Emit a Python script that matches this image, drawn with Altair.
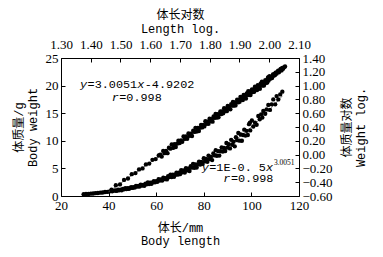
import altair as alt
import pandas as pd

# ---- data ----
low_len = [29.5, 30.5, 31.5, 32.5, 33.5, 34.5, 35.5, 36.5, 37.5, 38.5, 39.5, 40.5, 41.5, 42.5]
low_wt = [0.31, 0.36, 0.37, 0.43, 0.45, 0.52, 0.54, 0.61, 0.63, 0.72, 0.74, 0.84, 0.86, 0.97]

dense_len = [43.0, 43.5, 44.0, 44.5, 45.0, 45.5, 46.0, 46.5, 47.0, 47.5,
             48.0, 48.5, 49.0, 49.5, 50.0, 50.5, 51.0, 51.5, 52.0, 52.5,
             53.0, 53.5, 54.0, 54.5, 55.0, 55.5, 56.0, 56.5, 57.0, 57.5,
             58.0, 58.5, 59.0, 59.5, 60.0, 60.5, 61.0, 61.5, 62.0, 62.5,
             63.0, 63.5, 64.0, 64.5, 65.0, 65.5, 66.0, 66.5, 67.0, 67.5,
             68.0, 68.5, 69.0, 69.5, 70.0, 70.5, 71.0, 71.5, 72.0, 72.5,
             73.0, 73.5, 74.0, 74.5, 75.0, 75.5, 76.0, 76.5, 77.0, 77.5,
             78.0, 78.5, 79.0, 79.5, 80.0, 80.5, 81.0, 81.5, 82.0, 82.5,
             83.0, 83.5, 84.0, 84.5, 85.0, 85.5, 86.0, 86.5, 87.0, 87.5,
             88.0, 88.5, 89.0, 89.5, 90.0, 90.5, 91.0, 91.5, 92.0, 92.5,
             93.0, 93.5, 94.0, 94.5, 95.0, 95.5, 96.0, 96.5, 97.0, 97.5,
             98.0, 98.5, 99.0, 99.5]
dense_wt = [1.00, 0.94, 1.13, 1.05, 1.13, 1.05, 1.26, 1.22, 1.40, 1.25,
            1.41, 1.29, 1.44, 1.59, 1.47, 1.61, 1.53, 1.83, 1.69, 1.83,
            1.70, 2.03, 1.87, 2.01, 1.86, 2.22, 2.13, 2.44, 2.16, 2.43,
            2.20, 2.46, 2.70, 2.48, 2.70, 2.56, 3.04, 2.80, 3.01, 2.79,
            3.32, 3.05, 3.25, 3.00, 3.57, 3.42, 3.88, 3.43, 3.84, 3.48,
            3.86, 4.23, 3.87, 4.21, 3.96, 4.69, 4.31, 4.63, 4.26, 5.06,
            4.64, 4.93, 4.53, 5.39, 5.13, 5.82, 5.12, 5.72, 5.16, 5.72,
            6.24, 5.71, 6.18, 5.81, 6.86, 6.28, 6.73, 6.19, 7.32, 6.70,
            7.10, 6.51, 7.72, 7.35, 8.31, 7.30, 8.13, 7.32, 8.10, 8.82,
            8.05, 8.70, 8.15, 9.61, 8.79, 9.39, 8.62, 10.18, 9.29, 9.83,
            9.00, 10.66, 10.11, 11.42, 10.02, 11.14, 10.01, 11.06, 12.02, 10.95,
            11.81, 11.06, 13.01, 11.88]

high_len = [99.4, 100.2, 100.8, 101.5, 102.2, 102.9, 103.5, 104.1, 104.6, 105.0,
            105.8, 106.4, 107.1, 107.8, 108.5, 109.2, 110.0, 110.6, 111.3, 112.1, 113.0]
high_wt = [13.3, 13.7, 12.6, 13.3, 12.9, 14.5, 13.9, 14.8, 14.2, 15.4,
           14.9, 15.7, 16.5, 15.6, 16.6, 17.5, 16.6, 18.1, 17.5, 18.4, 18.9]

bottom_ticks = [20, 40, 60, 80, 100, 120]
left_ticks = [0, 5, 10, 15, 20, 25]
top_ticks = [1.30, 1.40, 1.50, 1.60, 1.70, 1.80, 1.90, 2.00, 2.10]
right_ticks = [-0.60, -0.40, -0.20, 0.00, 0.20, 0.40, 0.60, 0.80, 1.00, 1.20, 1.40]

SERIF = "Liberation Serif"
MONO = "Liberation Mono"
MIXED = "Liberation Mono, Noto Sans CJK SC"

lengths = low_len + dense_len + high_len
weights = low_wt + dense_wt + high_wt
fish = pd.DataFrame({"L": lengths, "W": weights})

common_axis = dict(domain=False, grid=False, tickSize=4, offset=-4, tickColor="black",
                   labelFont=SERIF, labelFontSize=13, labelColor="black",
                   titleFont=MIXED, titleFontSize=12, titleFontWeight="normal",
                   titleColor="black", titleLineHeight=13.5, labelOverlap=False,
                   labelFlush=False)

bottom_axis = alt.Axis(orient="bottom", values=bottom_ticks, format="d",
                       title=["体长/mm", "Body length"], labelPadding=3,
                       titlePadding=10, **common_axis)
left_axis = alt.Axis(orient="left", values=left_ticks, format="d",
                     title=["体质量/g", "Body weight"], labelPadding=3,
                     titleAngle=270, titlePadding=6, **common_axis)
top_axis = alt.Axis(orient="top", values=top_ticks, format=".2f",
                    title=["体长对数", "Length log."], labelPadding=7,
                    titlePadding=3, **common_axis)
right_axis = alt.Axis(orient="right", values=right_ticks, format=".2f",
                      title=["体质量对数", "Weight log."], labelPadding=3,
                      titleAngle=270, titlePadding=8, **common_axis)

x_pow = alt.X("L:Q", scale=alt.Scale(domain=[20, 120], nice=False, zero=False), axis=bottom_axis)
y_pow = alt.Y("W:Q", scale=alt.Scale(domain=[0, 25], nice=False, zero=False), axis=left_axis)

fit_pow = alt.Chart(fish).transform_regression(
    "L", "W", method="pow", extent=[29.5, 113]
).mark_line(color="#666666", strokeWidth=0.8).encode(x=x_pow, y=y_pow)
pts_pow = alt.Chart(fish).mark_circle(size=19, color="black", opacity=1).encode(x=x_pow, y=y_pow)

CW = 0.6 * 11.8


def piece(L, W, text, dx, italic=False, size=11.8, font=MONO, dy=0):
    df = pd.DataFrame({"L": [L], "W": [W], "t": [text]})
    return alt.Chart(df).mark_text(
        align="left", baseline="middle", dx=dx, dy=dy, font=font, fontSize=size,
        fontStyle="italic" if italic else "normal", color="black"
    ).encode(x=x_pow, y=y_pow, text="t:N")


texts = [
    piece(28.0, 20.2, "y", 0, True),
    piece(28.0, 20.2, "=3.0051", CW + 0.5),
    piece(28.0, 20.2, "x", 8 * CW + 0.5, True),
    piece(28.0, 20.2, "-4.9202", 9 * CW + 1),
    piece(41.3, 18.0, "r", 0, True),
    piece(41.3, 18.0, "=0.998", CW + 0.5),
    piece(79.1, 5.25, "y", 0, True),
    piece(79.1, 5.25, "=1E-0. 5", CW + 0.5),
    piece(79.1, 5.25, "x", 9 * CW + 0.5, True),
    piece(79.1, 5.25, "3.0051", 10 * CW + 1.5, size=7.5, font=SERIF, dy=-4),
    piece(88.2, 3.2, "r", 0, True),
    piece(88.2, 3.2, "=0.998", CW + 0.5),
]

log_base = alt.Chart(fish).transform_calculate(
    logL="log(datum.L)/LN10", logW="log(datum.W)/LN10"
)
x_log = alt.X("logL:Q", scale=alt.Scale(domain=[1.3, 2.1], nice=False, zero=False), axis=top_axis)
y_log = alt.Y("logW:Q", scale=alt.Scale(domain=[-0.6, 1.4], nice=False, zero=False), axis=right_axis)

fit_log = log_base.transform_regression(
    "logL", "logW", method="linear", extent=[1.46, 2.06]
).mark_line(color="#666666", strokeWidth=0.8).encode(x=x_log, y=y_log)
pts_log = log_base.mark_circle(size=19, color="black", opacity=1).encode(x=x_log, y=y_log)

left_layer = alt.layer(fit_pow, pts_pow, *texts)
right_layer = alt.layer(fit_log, pts_log)

chart = alt.layer(left_layer, right_layer).resolve_scale(
    x="independent", y="independent"
).properties(
    width=238, height=138,
    padding={"left": 61, "top": 58, "right": 84, "bottom": 61},
    autosize=alt.AutoSizeParams(type="none"),
    background="white",
).configure_view(stroke="black", strokeWidth=1)

chart.save("out.html", embed_options={"renderer": "svg", "actions": False})
